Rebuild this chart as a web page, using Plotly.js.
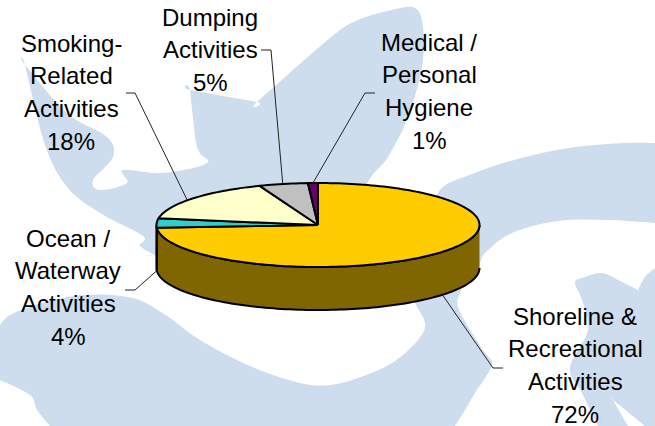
<!DOCTYPE html>
<html>
<head>
<meta charset="utf-8">
<script src="https://cdn.plot.ly/plotly-3.0.1.min.js"></script>
<style>html,body{margin:0;padding:0;background:#fff}#chart{width:655px;height:426px}</style>
</head>
<body>
<div id="chart"></div>
<script>
// ---- chart data ----
const categories = ["Shoreline & Recreational Activities","Ocean / Waterway Activities","Smoking-Related Activities","Dumping Activities","Medical / Personal Hygiene"];
const values = [72, 4, 18, 5, 1];
const topColors = ["#FFCC00","#33CCCC","#FFFFCC","#C0C0C0","#660066"];
const wallColors = ["#806600","#1A6666","#808066","#606060","#330033"];
const labelLines = [
  ["Shoreline &","Recreational","Activities","72%"],
  ["Ocean /","Waterway","Activities","4%"],
  ["Smoking-","Related","Activities","18%"],
  ["Dumping","Activities","5%"],
  ["Medical /","Personal","Hygiene","1%"]
];
const labelCenterX = [575, 68, 71, 210, 429];
const labelFirstLineY = [316, 238, 43, 17, 42];
const leaderStartX = [503, 125, 126, 261, 375];
const leaderKneeX = [493, 135, 135, 271, 365];
const leaderKneeY = [368, 290, 93, 50, 93];

// ---- pie geometry in pixel-like axis units ----
const cx = 318, cy = 225, rx = 161.5, ry = 42, depth = 43;
const rad = d => d * Math.PI / 180;
// perspective of the tilted disc pushes left-hand slice edges slightly clockwise
const warp = t => t + 12 * Math.pow(Math.sin(rad(t / 2)), 2);
const px = t => cx + rx * Math.sin(rad(t));
const py = t => cy - ry * Math.cos(rad(t));
const total = values.reduce((a, b) => a + b, 0);
let acc = 0;
const slices = values.map(v => { const s = acc; acc += v; return {a: s / total * 360, b: acc / total * 360}; });

function arc(a, b) {
  const n = Math.max(2, Math.ceil((b - a) / 1.5)), xs = [], ys = [];
  for (let i = 0; i <= n; i++) { const t = a + (b - a) * i / n; xs.push(px(t)); ys.push(py(t)); }
  return {xs, ys};
}

const traces = [];
// walls of the front half
slices.forEach((s, i) => {
  const a = Math.max(warp(s.a), 90), b = Math.min(warp(s.b), 270);
  if (b <= a) return;
  const c = arc(a, b);
  traces.push({type:"scatter", mode:"lines", fill:"toself", fillcolor:wallColors[i], name:categories[i], hoverinfo:"skip", showlegend:false,
    x:c.xs.concat(c.xs.slice().reverse()), y:c.ys.concat(c.ys.slice().reverse().map(y => y + depth)),
    line:{color:"#000", width:2, simplify:false}});
});
// top faces
slices.forEach((s, i) => {
  const c = arc(warp(s.a), warp(s.b));
  traces.push({type:"scatter", mode:"lines", fill:"toself", fillcolor:topColors[i], name:categories[i], showlegend:false,
    text:categories[i] + ": " + values[i] + "%", hoverinfo:"text",
    x:[cx].concat(c.xs, [cx]), y:[cy].concat(c.ys, [cy]),
    line:{color:"#000", width:2, simplify:false}});
});
// leader lines, ending on the rim at each slice's mid angle
slices.forEach((s, i) => {
  const m = (s.a + s.b) / 2;
  const rimY = py(m) + (Math.cos(rad(m)) < 0 ? depth : 0);
  traces.push({type:"scatter", mode:"lines", hoverinfo:"skip", showlegend:false,
    x:[leaderStartX[i], leaderKneeX[i], px(m)], y:[leaderKneeY[i], leaderKneeY[i], rimY],
    line:{color:"#222", width:1, simplify:false}});
});

// labels, one annotation per line for the wide line pitch of the original
const annotations = [];
labelLines.forEach((lines, i) => lines.forEach((txt, j) => annotations.push({
  x:labelCenterX[i], y:labelFirstLineY[i] + j * 32.7, xref:"x", yref:"y", text:txt, showarrow:false,
  xanchor:"center", yanchor:"middle", font:{family:"Liberation Sans, Arial, sans-serif", size:24, color:"#000"}
})));

// ---- pale background emblem ----
const emblem = [
  [[25,65],[25,65],[67,113],[107,137],[113,157],[93,180],[100,190],[127,183],[123,170],[163,173],[207,163],[197,147],[190,90],[190,90],[257,102],[257,102],[330,38],[358,20],[392,10],[415,8],[423,27],[422,67],[408,117],[388,157],[368,182],[340,240],[320,270],[157,256],[157,256],[140,246],[143,236],[100,213],[67,187],[45,145]],
  [[0,326],[33,306],[83,295],[133,298],[167,316],[200,340],[250,366],[300,383],[330,385],[358,378],[392,363],[418,340],[425,323],[415,303],[415,290],[470,270],[470,270],[460,293],[458,307],[472,333],[485,353],[492,365],[475,393],[465,410],[455,426],[455,426],[50,426],[50,426],[37,410],[30,395],[0,380],[0,380]],
  [[440,240],[438,193],[475,173],[525,157],[575,147],[625,143],[655,143],[655,143],[655,223],[655,223],[608,220],[558,221],[512,233],[485,253],[475,270],[440,280]],
  [[655,268],[655,268],[645,277],[638,290],[638,290],[622,282],[602,273],[582,278],[575,283],[582,300],[588,330],[570,368],[582,393],[598,426],[598,426],[628,426],[628,426],[613,400],[613,400],[645,426],[645,426],[655,426],[655,426]]
];
function smooth(pts) {
  const n = pts.length, at = i => pts[(i + n) % n];
  let d = "M" + pts[0].join(",");
  for (let i = 0; i < n; i++) {
    const p0 = at(i-1), p1 = at(i), p2 = at(i+1), p3 = at(i+2);
    d += " C" + (p1[0]+(p2[0]-p0[0])/6) + "," + (p1[1]+(p2[1]-p0[1])/6) + " " +
         (p2[0]-(p3[0]-p1[0])/6) + "," + (p2[1]-(p3[1]-p1[1])/6) + " " + p2[0] + "," + p2[1];
  }
  return d + " Z";
}
const shapes = emblem.map(p => ({type:"path", xref:"x", yref:"y", layer:"below", path:smooth(p), fillcolor:"#CEDDEE", line:{width:0}}));

Plotly.newPlot("chart", traces, {
  width:655, height:426, margin:{l:0,r:0,t:0,b:0},
  paper_bgcolor:"#FFFFFF", plot_bgcolor:"rgba(0,0,0,0)", showlegend:false,
  xaxis:{range:[0,655], visible:false, fixedrange:true},
  yaxis:{range:[426,0], visible:false, fixedrange:true},
  shapes, annotations
}, {displayModeBar:false, staticPlot:false});
</script>
</body>
</html>
